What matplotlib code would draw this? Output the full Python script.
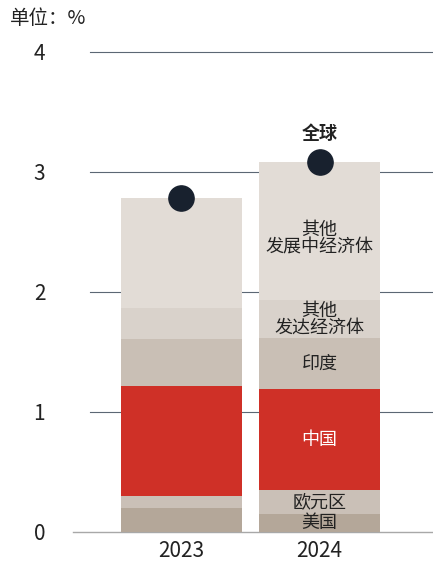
import matplotlib
matplotlib.use("Agg")
import matplotlib.pyplot as plt
import numpy as np

plt.rcParams["font.family"] = ["Noto Sans CJK SC", "DejaVu Sans"]

years = ["2023", "2024"]
segments = ["美国", "欧元区", "中国", "印度", "其他\n发达经济体", "其他\n发展中经济体"]
values = {
    "2023": [0.20, 0.10, 0.92, 0.39, 0.26, 0.91],
    "2024": [0.15, 0.20, 0.84, 0.43, 0.31, 1.15],
}
world = [2.78, 3.08]
yticks = [0, 1, 2, 3, 4]

colors = ["#b4a799", "#cac0b7", "#cf3027", "#c9bfb5", "#d9d2cb", "#e2dcd6"]
text_colors = ["#222222", "#222222", "white", "#222222", "#222222", "#222222"]
weights = ["normal", "normal", "medium", "normal", "normal", "normal"]
# small nudges so the labels sit where the original places them
offsets = [0.0, 0.0, 0.0, 0.0, 0.0, 0.06]

fig = plt.figure(figsize=(4.33, 5.69), dpi=100)
ax = fig.add_axes([73 / 433, 37 / 569, 360 / 433, 504 / 569])

x = np.arange(len(years))
width = 0.87

for t in yticks[1:]:
    ax.axhline(t, xmin=17 / 360, xmax=1, color="#5b6774", lw=0.8, zorder=0)
ax.axhline(0, color="#a8a8a8", lw=1.0, zorder=1, clip_on=False)

bottoms = np.zeros(len(years))
for k, seg in enumerate(segments):
    vals = np.array([values[y][k] for y in years])
    ax.bar(x, vals, width, bottom=bottoms, color=colors[k], zorder=2)
    # labels only inside the 2024 bar
    mid = bottoms[1] + vals[1] / 2 - offsets[k]
    ax.text(x[1], mid, seg, ha="center", va="center", fontsize=13,
            color=text_colors[k], fontweight=weights[k], linespacing=0.95,
            zorder=3)
    bottoms += vals

ax.scatter(x, world, s=330, color="#18212e", zorder=4)
ax.text(x[1], world[1] + 0.24, "全球", ha="center", va="center",
        fontsize=13, fontweight="bold", color="#222222")

ax.set_xlim(-0.786, 1.822)
ax.set_ylim(0, 4.2)
ax.set_yticks(yticks)
ax.set_yticklabels([str(t) for t in yticks], fontsize=15, color="#222222")
ax.set_xticks(x)
ax.set_xticklabels(years, fontsize=15, color="#222222")
ax.tick_params(axis="y", length=0, pad=20)
ax.tick_params(axis="x", length=0, pad=6)
for s in ax.spines.values():
    s.set_visible(False)

fig.text(10 / 433, 1 - 18 / 569, "单位：%", fontsize=14, color="#222222",
         ha="left", va="center")

fig.savefig("out.png", dpi=100)
